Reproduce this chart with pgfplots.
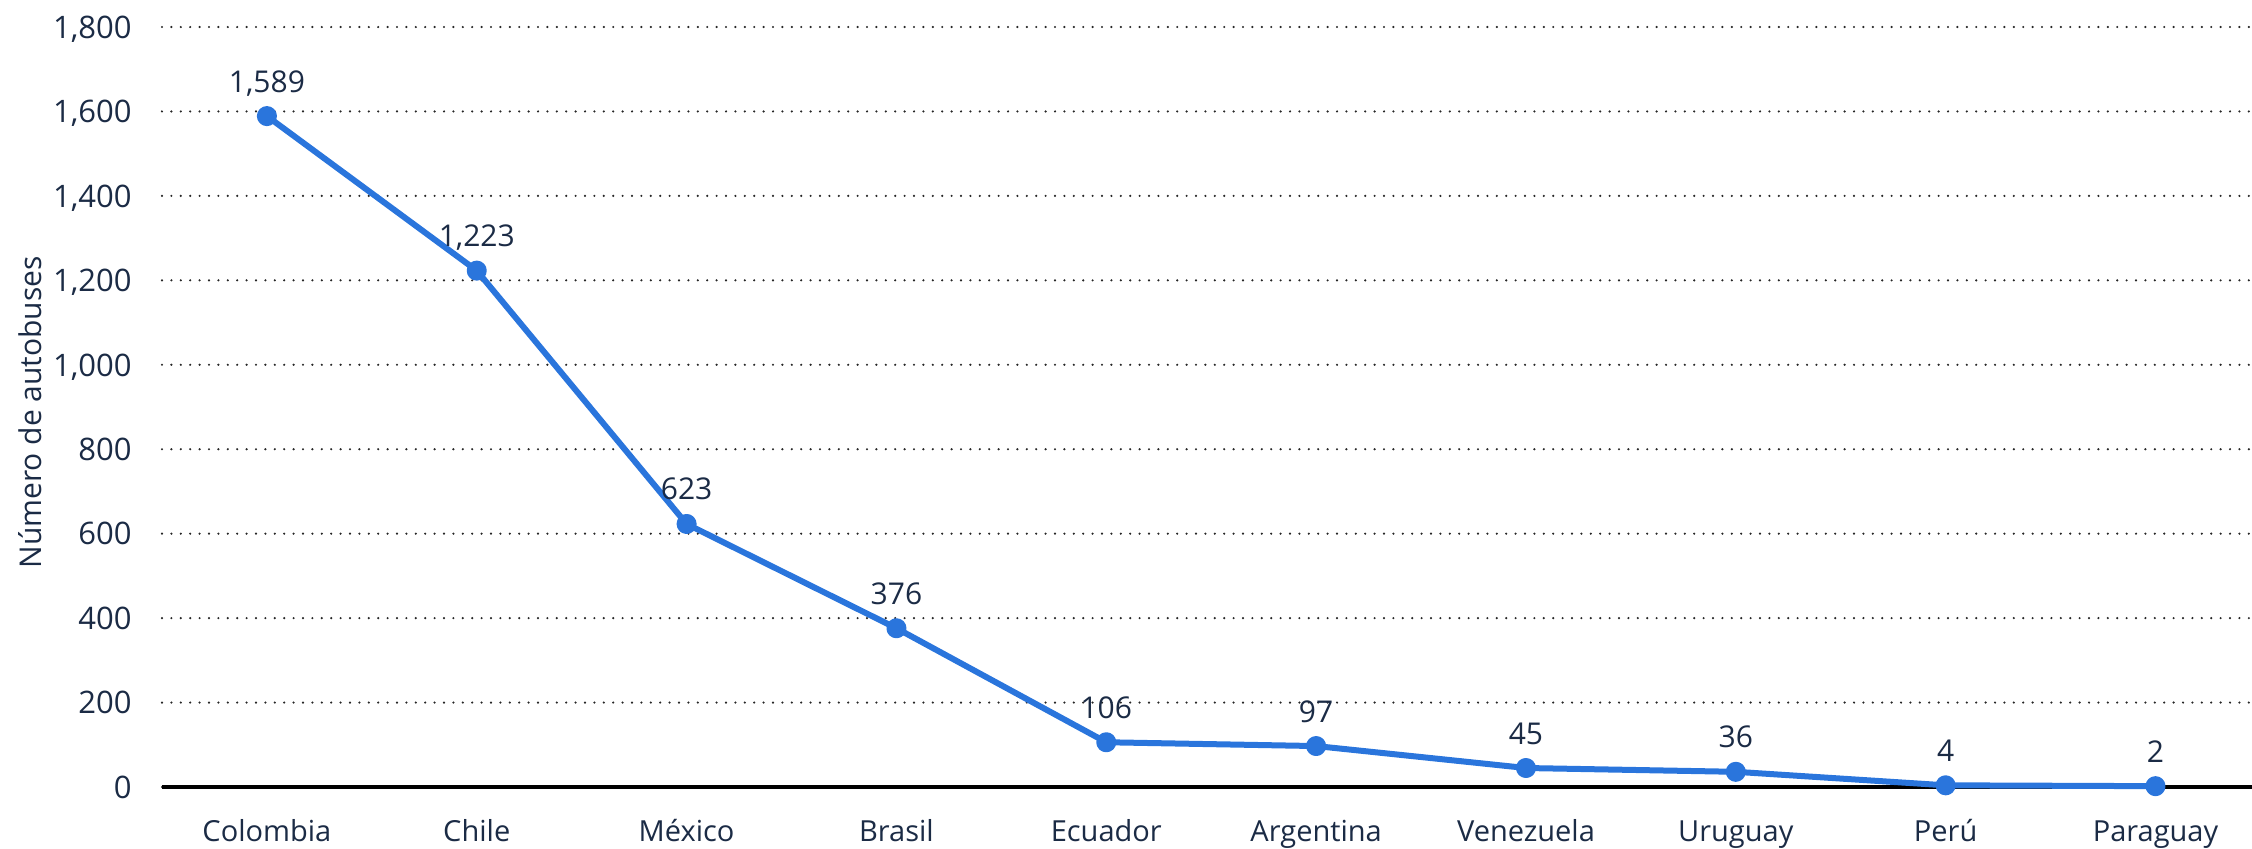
\documentclass[border=0pt]{standalone}
\usepackage{pgfplots}
\pgfplotsset{compat=1.18}
\usepackage{fontspec}
\setmainfont{Open Sans}
\definecolor{txt}{HTML}{1B2B45}
\definecolor{linec}{HTML}{2A75DC}
\definecolor{gridc}{HTML}{262626}

\pgfplotstableread{
idx value
0 1589
1 1223
2 623
3 376
4 106
5 97
6 45
7 36
8 4
9 2
}\buses

\begin{document}
\begin{tikzpicture}
\path[use as bounding box] (-81pt,-30.5pt) rectangle (1045pt,393.5pt);
\begin{axis}[
  at={(0,0)}, anchor=south west,
  width=1045pt, height=380pt, scale only axis,
  xmin=-0.5, xmax=9.46, ymin=0, ymax=1800,
  clip=false,
  axis x line*=bottom, axis y line*=left,
  x axis line style={black, line width=2.2pt, -},
  y axis line style={draw=none},
  major tick length=0pt,
  tick style={draw=none},
  xtick={0,...,9},
  xticklabels={Colombia,Chile,México,Brasil,Ecuador,Argentina,Venezuela,Uruguay,Perú,Paraguay},
  ytick={0,200,...,1800},
  ymajorgrids,
  grid style={gridc, line width=1.2pt, line cap=round, dash pattern=on 0pt off 4.7pt},
  /pgf/number format/assume math mode=true,
  /pgf/number format/1000 sep={,},
  yticklabel style={font=\fontsize{15.5}{18}\selectfont, text=txt,
    anchor=east, inner sep=0pt, xshift=-15pt, text depth=0pt},
  xticklabel style={font=\fontsize{14.5}{18}\selectfont, text=txt,
    anchor=base, inner sep=0pt, yshift=-27pt},
  ylabel={Número de autobuses},
  ylabel style={at={(axis description cs:-0.0632,0.493)}, anchor=center,
    font=\fontsize{15}{18}\selectfont, text=txt},
  nodes near coords,
  nodes near coords style={anchor=base, inner sep=0pt, yshift=12pt,
    text=txt, font=\fontsize{15}{18}\selectfont},
]
\addplot[linec, line width=3pt, line join=round,
  mark=*, mark size=3.5pt, mark options={draw=none, fill=linec}]
  table[x=idx, y=value] {\buses};
\end{axis}
\end{tikzpicture}
\end{document}
